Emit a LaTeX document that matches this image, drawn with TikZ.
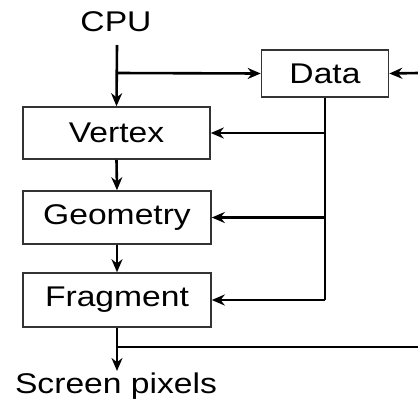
\documentclass[tikz,border=0pt]{standalone}
\usepackage{fontspec}
\setmainfont{Liberation Sans}[FakeStretch=1.18]
\usetikzlibrary{arrows.meta}
\begin{document}
\begin{tikzpicture}[x=1pt,y=-1pt,
  box/.style={draw=black!80,line width=1.6pt,fill=white,inner sep=0pt,font=\fontsize{28.5}{31}\selectfont},
  lbl/.style={inner sep=0pt,font=\fontsize{28.5}{31}\selectfont},
  conn/.style={line width=2.6pt,-{Stealth[length=13pt,width=11pt]}},
  plain/.style={line width=2.6pt}]
\useasboundingbox (0,0) rectangle (418,400);
\node[lbl,anchor=base] (cpu) at (116,31) {CPU};
\node[box,minimum width=127pt,minimum height=47pt] (data) at (325,73.5) {Data};
\node[box,minimum width=187pt,minimum height=52pt] (vertex) at (116.5,133) {Vertex};
\node[box,minimum width=188pt,minimum height=53pt] (geometry) at (117,217.5) {Geometry};
\node[box,minimum width=188pt,minimum height=54pt] (fragment) at (117,300) {Fragment};
\node[lbl,anchor=base] (screen) at (116,393) {Screen pixels};
\coordinate (cputop) at (117,45);
\coordinate (split) at (117,73);
\coordinate (rightin) at (418,73);
\coordinate (busend) at (325,300);
\coordinate (screentip) at (117,371);
\coordinate (split2) at (117,347);
\coordinate (rightout) at (418,347);
\draw[conn] (cputop) -- (vertex.north);
\draw[conn] (split) -- (data.west);
\draw[conn] (rightin) -- (data.east);
\draw[plain] (data.south) -- (busend);
\draw[conn] (vertex.east -| busend) -- (vertex.east);
\draw[conn] (geometry.east -| busend) -- (geometry.east);
\draw[conn] (busend) -- (fragment.east);
\draw[conn] (vertex.south) -- (geometry.north);
\draw[conn] (geometry.south) -- (fragment.north);
\draw[conn] (fragment.south) -- (screentip);
\draw[plain] (split2) -- (rightout);
\end{tikzpicture}
\end{document}
